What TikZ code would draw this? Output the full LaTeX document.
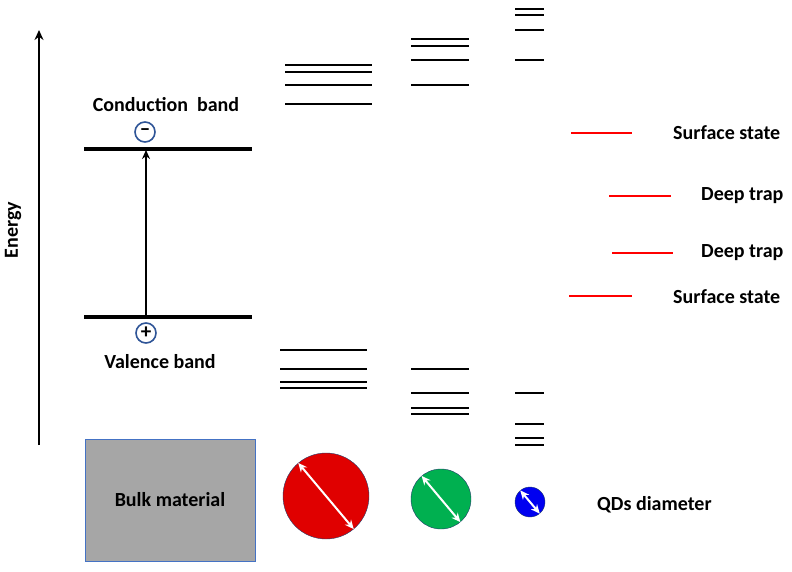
\documentclass[tikz,border=0pt]{standalone}
\usepackage{fontspec}
\setmainfont{Carlito}
\usetikzlibrary{arrows.meta}
\definecolor{chargeblue}{HTML}{2F5597}
\definecolor{bulkgray}{HTML}{A6A6A6}
\definecolor{bulkedge}{HTML}{4472C4}
\definecolor{qdred}{HTML}{E00000}
\definecolor{qdgreen}{HTML}{00B050}
\definecolor{qdblue}{HTML}{0000F0}

\begin{document}
\begin{tikzpicture}[x=1pt,y=-1pt,
    level/.style={line width=2.6pt},
    band/.style={line width=3.6pt},
    trap/.style={red,line width=1.6pt},
    lbl/.style={font=\fontsize{20}{24}\selectfont\bfseries,inner sep=0},
    charge/.style={circle,draw=chargeblue,line width=1.6pt,inner sep=0,minimum size=20pt,font=\fontsize{21}{21}\selectfont\bfseries},
    dot/.style={circle,draw=chargeblue!70!black,inner sep=0},
    diam/.style={white,line width=2pt,{Stealth[length=9pt,width=8pt]}-{Stealth[length=9pt,width=8pt]}}]
    \useasboundingbox (0,0) rectangle (792,571);
    % energy axis
    \coordinate (axisbot) at (39,445);
    \coordinate (axistop) at (39,30);
    \draw[line width=1.6pt,-{Stealth[length=10pt,width=9pt]}] (axisbot) -- (axistop);
    \node[lbl,rotate=90] (energy) at (13,230) {Energy};
    % bulk bands
    \draw[band] (84,149) -- (252,149);
    \draw[band] (84,317) -- (252,317);
    \coordinate (vb) at (146,317);
    \coordinate (cb) at (146,150);
    \draw[line width=1.5pt,-{Stealth[length=9pt,width=8pt]}] (vb) -- (cb);
    \node[charge] (electron) at (145,132) {–};
    \node[charge] (hole) at (146,333) {+};
    \node[lbl] (cblabel) at (166,105) {Conduction\ \ band};
    \node[lbl] (vblabel) at (160,362) {Valence band};
    % discrete levels
    \foreach \y in {65,72,85,104} \draw[level] (285,\y) -- (372,\y);
    \foreach \y in {39,46,60,85} \draw[level] (411,\y) -- (469,\y);
    \foreach \y in {9,15,30,60} \draw[level] (515,\y) -- (544,\y);
    \foreach \y in {350,369,382,388} \draw[level] (280,\y) -- (367,\y);
    \foreach \y in {369,393,408,414} \draw[level] (411,\y) -- (469,\y);
    \foreach \y in {393,424,438,445} \draw[level] (515,\y) -- (544,\y);
    % trap states
    \draw[trap] (571,133) -- (632,133);
    \draw[trap] (609,196) -- (671,196);
    \draw[trap] (612,253) -- (673,253);
    \draw[trap] (569,296) -- (632,296);
    \node[lbl,anchor=west] (surf1) at (673,133) {Surface state};
    \node[lbl,anchor=west] (deep1) at (701,196) {Deep trap};
    \node[lbl,anchor=west] (deep2) at (701,253) {Deep trap};
    \node[lbl,anchor=west] (surf2) at (673,297) {Surface state};
    % bulk and dots
    \node[lbl,draw=bulkedge,fill=bulkgray,line width=0.8pt,minimum width=170pt,minimum height=122pt] (bulk) at (170,500) {Bulk material};
    \node[dot,fill=qdred,minimum size=86pt] (big) at (326,496) {};
    \node[dot,fill=qdgreen,minimum size=60pt] (mid) at (441,499) {};
    \node[dot,fill=qdblue,minimum size=30pt] (small) at (530,502) {};
    \draw[diam] (big.130) -- (big.-50);
    \draw[diam] (mid.130) -- (mid.-50);
    \draw[diam] (small.130) -- (small.-50);
    \node[lbl,anchor=west] (qdlabel) at (597,505) {QDs diameter};
\end{tikzpicture}
\end{document}
